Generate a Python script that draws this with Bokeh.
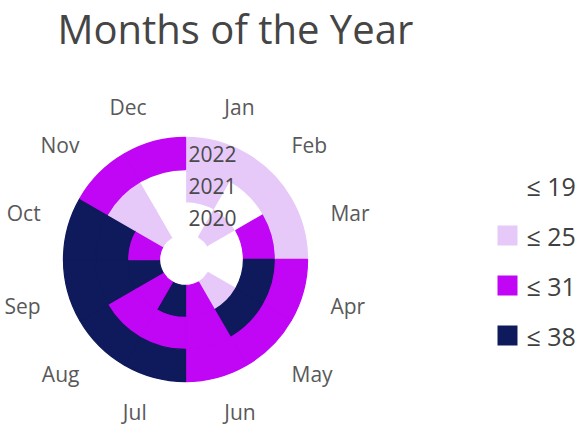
import numpy as np
from bokeh.plotting import figure
from bokeh.models import Range1d, ColumnDataSource
from bokeh.core.properties import value
from bokeh.embed import file_html
from bokeh.resources import INLINE

# ---------------- data ----------------
title_text = "Months of the Year"
months = ["Jan", "Feb", "Mar", "Apr", "May", "Jun",
          "Jul", "Aug", "Sep", "Oct", "Nov", "Dec"]
years = ["2020", "2021", "2022"]
values_2020 = [15, 23, 18, 19, 22, 29, 37, 28, 34, 30, 25, 14]
values_2021 = [21, 17, 27, 33, 34, 29, 30, 31, 35, 32, 24, 16]
values_2022 = [22, 24, 23, 28, 30, 31, 35, 36, 33, 32, 27, 26]
bin_limits = [19, 25, 31, 38]
legend_labels = ["≤ 19", "≤ 25", "≤ 31", "≤ 38"]

# ---------------- style ----------------
palette = ["#FFFFFF", "#E6C9F8", "#C105F5", "#0E1A5B"]
FONT = "Open Sans"
W, H = 583, 429
cx, cy = 185, 170          # centre of the radial chart
hole, ring_w = 26, 32      # inner hole radius and ring thickness
label_r = 150

p = figure(width=W, height=H, x_range=Range1d(0, W), y_range=Range1d(0, H),
           output_backend="svg", toolbar_location=None, min_border=0,
           x_axis_location=None, y_axis_location=None,
           background_fill_color="white", border_fill_color="white",
           outline_line_color=None)
p.grid.visible = False

# ---------------- cells ----------------
xs, ys, inner, outer, starts, ends, colors = [], [], [], [], [], [], []
series = [values_2020, values_2021, values_2022]
n = len(months)
step = 360.0 / n
for k, vals in enumerate(series):
    for i, v in enumerate(vals):
        b = next(j for j, lim in enumerate(bin_limits) if v <= lim)
        xs.append(cx)
        ys.append(cy)
        inner.append(hole + k * ring_w)
        outer.append(hole + (k + 1) * ring_w)
        starts.append(np.deg2rad(90 - step * i))
        ends.append(np.deg2rad(90 - step * (i + 1)))
        colors.append(palette[b])

src = ColumnDataSource(dict(x=xs, y=ys, ir=inner, orad=outer,
                            sa=starts, ea=ends, c=colors))
p.annular_wedge(x="x", y="y", inner_radius="ir", outer_radius="orad",
                start_angle="sa", end_angle="ea", direction="clock",
                fill_color="c", line_color="c", line_width=1.3, source=src)

# ---------------- month labels ----------------
for i, m in enumerate(months):
    a = np.deg2rad(90 - step * (i + 0.5))
    lx = cx + label_r * np.cos(a)
    ly = cy + label_r * np.sin(a) + (8 if np.sin(a) > 0 else -8)
    align = "left" if np.cos(a) > 0 else "right"
    p.text(x=[lx], y=[ly], text=[m], text_align=align, text_baseline="middle",
           text_font=value(FONT), text_font_size="21px", text_color="#595959")

# ---------------- year labels ----------------
for k, yr in enumerate(years):
    p.text(x=[cx + 3], y=[cy + hole + (k + 0.5) * ring_w], text=[yr],
           text_align="left", text_baseline="middle",
           text_font=value(FONT), text_font_size="21px", text_color="#4A4A4A")

# ---------------- title ----------------
p.text(x=[57], y=[401], text=[title_text], text_align="left",
       text_baseline="middle", text_font=value(FONT),
       text_font_size="40px", text_color="#454545")

# ---------------- legend ----------------
lg_x, lg_y0, lg_dy = 507, 244, 50
for j, lab in enumerate(legend_labels):
    yy = lg_y0 - j * lg_dy
    p.rect(x=[lg_x], y=[yy], width=20, height=20, fill_color=palette[j],
           line_color=None)
    p.text(x=[lg_x + 19], y=[yy], text=[lab], text_align="left",
           text_baseline="middle", text_font=value(FONT),
           text_font_size="25px", text_color="#404040")

open("out.html", "w").write(file_html(p, INLINE))
